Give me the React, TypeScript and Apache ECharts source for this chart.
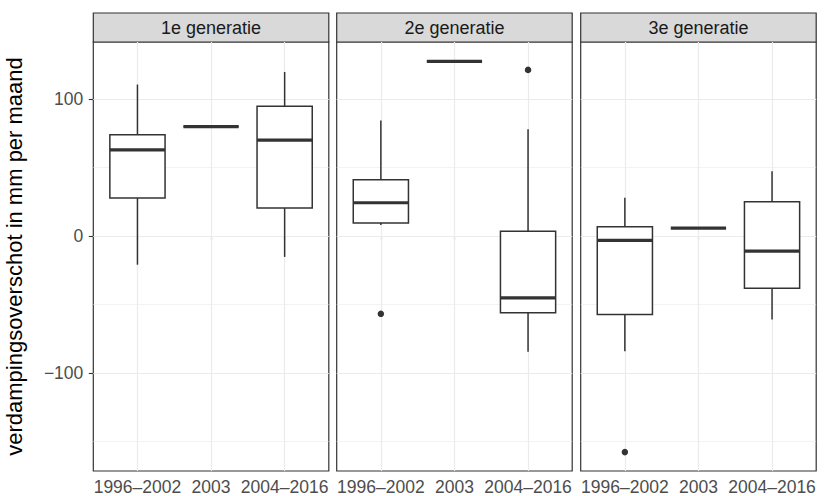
import React, { useEffect, useRef } from 'react';
import * as echarts from 'echarts';

const categories = ['1996–2002', '2003', '2004–2016'];
const panels = ['1e generatie', '2e generatie', '3e generatie'];
const xPositions = [1, 2, 3];
// [min, q1, median, q3, max] per category
const gen1Boxes = [
  [-21.0, 27.7, 63.0, 74.0, 110.7],
  [80.0, 80.0, 80.0, 80.0, 80.0],
  [-15.3, 20.4, 70.1, 94.9, 119.9],
];
const gen2Boxes = [
  [8.0, 9.5, 24.3, 41.1, 84.4],
  [127.7, 127.7, 127.7, 127.7, 127.7],
  [-84.7, -56.2, -45.3, 3.4, 78.1],
];
const gen3Boxes = [
  [-84.2, -57.4, -3.2, 6.8, 28.0],
  [5.8, 5.8, 5.8, 5.8, 5.8],
  [-61.1, -38.2, -11.0, 25.0, 47.3],
];
// [position, value]
const gen1Outliers: number[][] = [];
const gen2Outliers = [[1, -56.9], [3, 121.4]];
const gen3Outliers = [[1, -158.0]];
const yTicks = [-100, 0, 100];
const yMinorGrid = [-150, -50, 50];
const yMin = -171.8;
const yMax = 141.8;

const FONT = "'Liberation Sans', Arial, Helvetica, sans-serif";
const DARK = '#333333';

export default function App() {
  const ref = useRef<HTMLDivElement>(null);
  useEffect(() => {
    if (!ref.current) return;
    const chart = echarts.init(ref.current, null, { renderer: 'svg' });
    const boxes = [gen1Boxes, gen2Boxes, gen3Boxes];
    const outliers = [gen1Outliers, gen2Outliers, gen3Outliers];
    const lefts = [93.3, 336.7, 580.7];
    const pw = 235.5;
    const top = 42;
    const ph = 429.7;

    const grid = lefts.map((l) => ({
      left: l, top, width: pw, height: ph, show: true,
      backgroundColor: '#ffffff', borderColor: DARK, borderWidth: 1.2,
      containLabel: false,
    }));
    const xAxis = lefts.map((_, i) => ({
      type: 'value', gridIndex: i, min: 0.4, max: 3.6,
      axisLine: { show: false },
      splitLine: { show: false },
      axisTick: { show: true, customValues: xPositions, length: 4.5, lineStyle: { color: DARK, width: 1.1 } },
      axisLabel: {
        show: true, customValues: xPositions, margin: 7,
        color: '#4D4D4D', fontSize: 17.5, fontFamily: FONT,
        formatter: (v: number) => categories[Math.round(v) - 1] ?? '',
      },
    }));
    const yAxis = lefts.map((_, i) => ({
      type: 'value', gridIndex: i, min: yMin, max: yMax,
      axisLine: { show: false },
      splitLine: { show: false },
      axisTick: { show: i === 0, customValues: yTicks, length: 4.5, lineStyle: { color: DARK, width: 1.1 } },
      axisLabel: {
        show: i === 0, customValues: yTicks, margin: 10,
        color: '#4D4D4D', fontSize: 17.5, fontFamily: FONT,
        formatter: (v: number) => String(v).replace('-', '\u2212'),
      },
      name: i === 0 ? 'verdampingsoverschot in mm per maand' : '',
      nameLocation: 'middle', nameGap: 68,
      nameTextStyle: { color: '#000000', fontSize: 22, fontFamily: FONT },
    }));

    const series: any[] = [];
    lefts.forEach((_, i) => {
      series.push({
        type: 'line', xAxisIndex: i, yAxisIndex: i, data: [], z: 1, silent: true,
        markLine: {
          z: 1, silent: true, symbol: 'none', label: { show: false }, animation: false,
          data: [
            ...yMinorGrid.map((v) => ({ yAxis: v, lineStyle: { color: '#EBEBEB', width: 0.6, type: 'solid' } })),
            ...yTicks.map((v) => ({ yAxis: v, lineStyle: { color: '#EBEBEB', width: 1.2, type: 'solid' } })),
            ...xPositions.map((v) => ({ xAxis: v, lineStyle: { color: '#EBEBEB', width: 1.2, type: 'solid' } })),
          ],
        },
      });
      series.push({
        type: 'custom', xAxisIndex: i, yAxisIndex: i, z: 10,
        encode: { x: 0, y: [1, 2, 3, 4, 5] },
        data: boxes[i].map((b, j) => [xPositions[j], ...b]),
        renderItem: (params: any, api: any) => {
          const x = api.value(0);
          const lo = api.coord([x, api.value(1)]);
          const q1 = api.coord([x, api.value(2)]);
          const med = api.coord([x, api.value(3)]);
          const q3 = api.coord([x, api.value(4)]);
          const hi = api.coord([x, api.value(5)]);
          const w = api.size([0.75, 0])[0];
          const cx = lo[0];
          const l = cx - w / 2;
          const r = cx + w / 2;
          return {
            type: 'group',
            children: [
              { type: 'line', shape: { x1: cx, y1: hi[1], x2: cx, y2: q3[1] }, style: { stroke: DARK, lineWidth: 1.5 } },
              { type: 'line', shape: { x1: cx, y1: q1[1], x2: cx, y2: lo[1] }, style: { stroke: DARK, lineWidth: 1.5 } },
              { type: 'rect', shape: { x: l, y: q3[1], width: w, height: q1[1] - q3[1] }, style: { fill: '#ffffff', stroke: DARK, lineWidth: 1.5 } },
              { type: 'line', shape: { x1: l, y1: med[1], x2: r, y2: med[1] }, style: { stroke: DARK, lineWidth: 3.2 } },
            ],
          };
        },
      });
      series.push({
        type: 'scatter', xAxisIndex: i, yAxisIndex: i, z: 11,
        symbol: 'circle', symbolSize: 6.5,
        itemStyle: { color: DARK, opacity: 1 },
        data: outliers[i],
      });
    });

    const graphic: any[] = [];
    lefts.forEach((l, i) => {
      graphic.push({
        type: 'rect', shape: { x: l, y: 13, width: pw, height: 29 },
        style: { fill: '#D9D9D9', stroke: DARK, lineWidth: 1.2 },
      });
      graphic.push({
        type: 'text', x: l + pw / 2, y: 28,
        style: { text: panels[i], fill: '#1A1A1A', font: `18px ${FONT}`, align: 'center', verticalAlign: 'middle' },
      });
    });

    chart.setOption({
      animation: false,
      backgroundColor: '#ffffff',
      grid, xAxis, yAxis, series, graphic,
    });
    return () => chart.dispose();
  }, []);
  return <div ref={ref} style={{ position: 'fixed', left: 0, top: 0, width: 835, height: 496 }} />;
}
